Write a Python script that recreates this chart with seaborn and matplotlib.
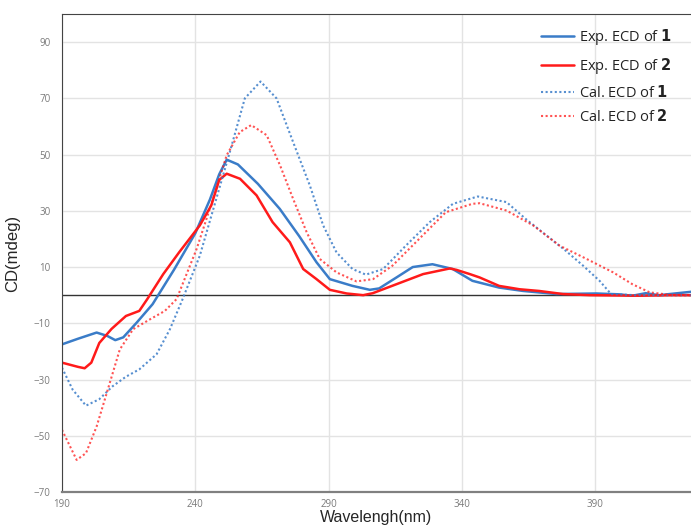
import matplotlib
matplotlib.use("Agg")
import matplotlib.pyplot as plt
import seaborn as sns
import pandas as pd

# Exp. ECD of 1
exp1_wl = [190, 196, 203, 207, 210, 213, 218, 224, 232, 240, 245.5, 249, 251.8, 256, 263.5,
           271.7, 279, 285.5, 290.5, 299, 305.5, 309, 315.5, 321.6, 329, 336.6, 344, 354,
           363, 375.5, 390.5, 399, 404, 409, 414, 424, 426]
exp1_cd = [-17.5, -15.5, -13.3, -14.5, -16, -15, -9.8, -3.2, 9, 22, 34, 43, 48.2, 46.5, 39.6,
           30.7, 21, 11.7, 5.7, 3.3, 1.9, 2.4, 6.3, 10, 11, 9.3, 5.1, 2.7,
           1.5, 0.4, 0.6, 0.3, -0.2, 0.7, 0, 1, 1.2]

# Exp. ECD of 2
exp2_wl = [190, 196, 198.5, 201, 204, 208.6, 214, 219, 222, 228, 234, 241.7, 246, 249, 251.8, 256.8,
           263, 269, 275.5, 280.5, 285.5, 290.5, 296.8, 303, 306.6, 315.5, 325.5, 335.5, 338,
           343, 346.7, 354, 361.7, 369, 378, 388, 406.7, 419, 426]
exp2_cd = [-24, -25.5, -26, -24, -17, -12, -7.4, -5.6, -1.4, 7.5, 15.3, 24.8, 31.9, 41, 43.2, 41.4,
           35.5, 26, 18.8, 9.3, 5.7, 1.9, 0.6, 0, 0.7, 3.9, 7.5, 9.5, 9,
           7.5, 6.3, 3.3, 2.1, 1.5, 0.4, 0, -0.2, 0, 0]

# Cal. ECD of 1
cal1_wl = [190, 194, 199, 204, 209, 214, 219, 225.5, 230.5, 235, 241.7, 249, 253, 258.6, 264.5,
           270.5, 276.7, 283, 288, 293, 299, 304, 310.5, 319, 328, 336.7, 346, 356.8, 364,
           371.8, 379, 385.5, 391.7, 396, 405, 415, 426]
cal1_cd = [-25.8, -33.6, -39.3, -37, -32.4, -29, -26.4, -21, -12.1, -2, 14, 37.9, 51, 70, 76,
           70, 54.5, 39, 24.8, 15.2, 9.3, 7.3, 9.3, 17.6, 26, 32.5, 35.1, 33.1, 27.1,
           21.2, 15.8, 10.5, 5.1, 0.4, 0, 0, 0]

# Cal. ECD of 2
cal2_wl = [190, 195.5, 199, 203, 206.8, 211.7, 216.7, 223, 228.6, 233, 240.5, 246.7, 251.8, 256.7,
           261, 266.8, 271.8, 276.7, 281.8, 286.7, 293, 300.5, 306.7, 314, 324, 334, 344, 346.7,
           356.8, 366.8, 376.7, 386.8, 396.8, 404, 410.5, 419, 426]
cal2_cd = [-47.9, -58.6, -56.2, -46.7, -34.8, -19.3, -12.1, -8.6, -5.6, -1.4, 16.4, 34.3, 49.8, 58,
           60.5, 56.9, 46.2, 34.3, 22.4, 12.9, 8.1, 4.9, 5.7, 10.5, 20, 29.5, 32.5, 32.7,
           30.1, 24.8, 17.6, 12.9, 8.1, 3.9, 1, 0, 0]

x_ticks = [190, 240, 290, 340, 390]
y_ticks = [-70, -50, -30, -10, 10, 30, 50, 70, 90]

blue = '#3a7cc8'
red = '#ff1a1a'

series = [
    (exp1_wl, exp1_cd, 'Exp. ECD of $\\mathbf{1}$', blue, '-', 1.8, 1.0),
    (exp2_wl, exp2_cd, 'Exp. ECD of $\\mathbf{2}$', red, '-', 1.8, 1.0),
    (cal1_wl, cal1_cd, 'Cal. ECD of $\\mathbf{1}$', blue, (0, (1, 1.2)), 1.5, 0.85),
    (cal2_wl, cal2_cd, 'Cal. ECD of $\\mathbf{2}$', red, (0, (1, 1.2)), 1.5, 0.75),
]

sns.set_style('white')
plt.rcParams['font.family'] = ['Open Sans', 'DejaVu Sans']

fig, ax = plt.subplots(figsize=(6.91, 5.29), dpi=100)
fig.subplots_adjust(left=0.0897, right=1.0, top=0.9735, bottom=0.070)

for wl, cd, label, color, ls, lw, alpha in series:
    df = pd.DataFrame({'wl': wl, 'cd': cd})
    sns.lineplot(data=df, x='wl', y='cd', ax=ax, color=color, linestyle=ls,
                 linewidth=lw, alpha=alpha, label=label, sort=False)

ax.axhline(0, color='#333333', linewidth=1.0, zorder=1)

ax.set_xlim(190, 426)
ax.set_ylim(-70, 100)
ax.set_xticks(x_ticks)
ax.set_yticks(y_ticks)
ax.grid(True, color='#e3e3e3', linewidth=1.0)
ax.set_axisbelow(True)
ax.tick_params(axis='x', length=0, labelsize=7, labelcolor='#7a7a7a', pad=5)
ax.tick_params(axis='y', length=0, labelsize=7, labelcolor='#7a7a7a', pad=8)

ax.spines['right'].set_visible(False)
ax.spines['left'].set_color('#444444')
ax.spines['top'].set_color('#444444')
ax.spines['bottom'].set_color('#808080')
ax.spines['bottom'].set_linewidth(1.6)

ax.set_xlabel('Wavelengh(nm)', fontsize=11.5, family='Liberation Sans', labelpad=0)
ax.set_ylabel('CD(mdeg)', fontsize=12, family='Liberation Sans', labelpad=10)

leg = ax.legend(loc='upper right', bbox_to_anchor=(0.99, 1.0), frameon=False,
                fontsize=10.5, labelspacing=0.6, handlelength=2.3, handletextpad=0.3)
for t in leg.get_texts():
    t.set_color('#222222')

fig.savefig('out.png', dpi=100)
